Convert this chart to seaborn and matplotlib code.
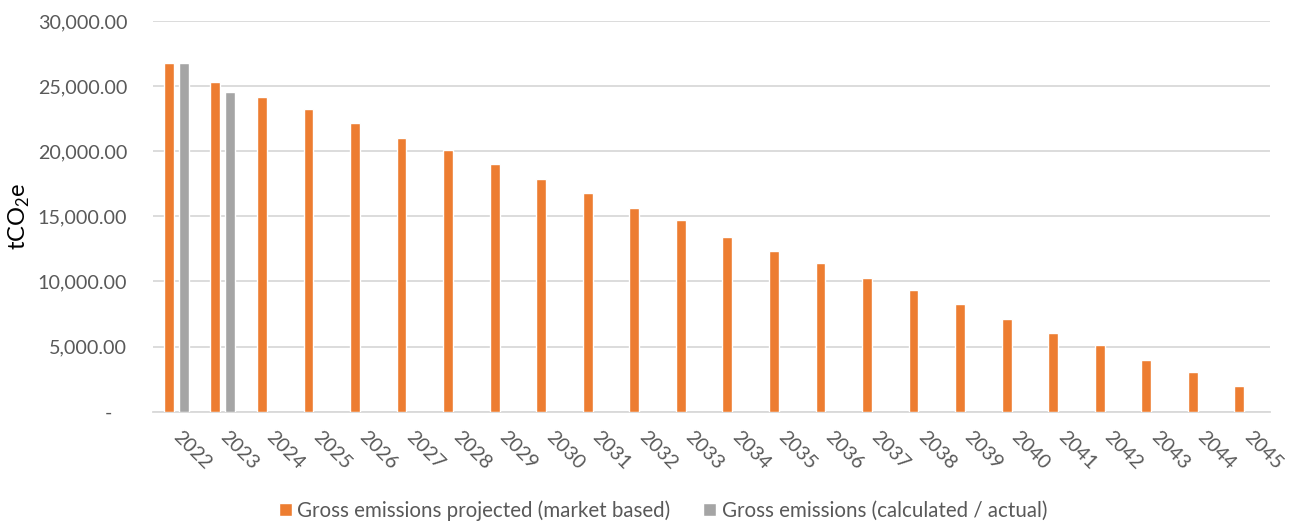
import matplotlib
matplotlib.use("Agg")
import matplotlib.pyplot as plt
import matplotlib.ticker as mticker
import pandas as pd
import seaborn as sns

years = [str(y) for y in range(2022, 2046)]
projected = [26730, 25270, 24150, 23230, 22130, 21000, 20080, 18980, 17850,
             16760, 15630, 14710, 13400, 12310, 11390, 10260, 9340, 8240,
             7110, 6020, 5100, 3970, 3050, 1950]
actual_years = ["2022", "2023"]
actual = [26730, 24510]

series_projected = "Gross emissions projected (market based)"
series_actual = "Gross emissions (calculated / actual)"

df = pd.concat([
    pd.DataFrame({"year": years, "value": projected, "series": series_projected}),
    pd.DataFrame({"year": actual_years, "value": actual, "series": series_actual}),
], ignore_index=True)

sns.set_theme(style="white")
plt.rcParams["font.family"] = ["Lato", "DejaVu Sans"]

text_color = "#595959"
grid_color = "#D9D9D9"
tick_size = 14.2

fig = plt.figure(figsize=(12.92, 5.22), dpi=100)
ax = fig.add_axes([0.1184, 0.2113, 0.983 - 0.1184, 0.960 - 0.2113])

sns.barplot(
    data=df, x="year", y="value", hue="series", order=years,
    hue_order=[series_projected, series_actual],
    palette=["#ED7D31", "#A5A5A5"], width=0.64, gap=0.34,
    errorbar=None, ax=ax, saturation=1, zorder=3,
)

ax.set_xlim(-0.5, len(years) - 0.5)
ax.set_ylim(0, 30000)
ax.yaxis.set_major_locator(mticker.MultipleLocator(5000))
ax.yaxis.set_major_formatter(
    mticker.FuncFormatter(lambda v, _: "-   " if v == 0 else f"{v:,.2f}")
)
ax.grid(axis="y", color=grid_color, linewidth=1.3, zorder=0)
ax.set_axisbelow(True)
for side in ("top", "right", "left"):
    ax.spines[side].set_visible(False)
ax.spines["bottom"].set_color(grid_color)
ax.spines["bottom"].set_linewidth(1.3)

ax.tick_params(axis="y", length=0, pad=18.5, labelsize=tick_size, labelcolor=text_color)
ax.tick_params(axis="x", length=0, pad=16, labelsize=tick_size, labelcolor=text_color)
for lbl in ax.get_xticklabels():
    lbl.set_rotation(-45)
    lbl.set_ha("left")
    lbl.set_va("center")
    lbl.set_rotation_mode("anchor")

ax.set_xlabel("")
ax.set_ylabel(r"tCO$_\mathregular{2}$e", fontsize=17, color="#000000")
ax.yaxis.set_label_coords(-0.108, 0.5)

handles, labels = ax.get_legend_handles_labels()
ax.legend_.remove()
fig.legend(
    handles, labels, loc="center", bbox_to_anchor=(0.513, 0.022), ncol=2,
    frameon=False, fontsize=14.8, labelcolor=text_color, handlelength=0.65,
    handleheight=0.65, handletextpad=0.25, columnspacing=1.6,
)

fig.savefig("out.png", dpi=100)
